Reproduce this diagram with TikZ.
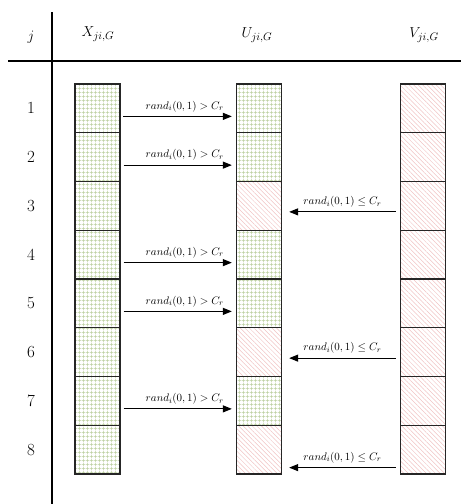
\documentclass[tikz,border=0pt]{standalone}
\usetikzlibrary{patterns.meta,arrows.meta}
\definecolor{gridgreen}{RGB}{185,205,155}
\definecolor{hatchpink}{RGB}{240,195,195}
\tikzset{
  cell/.style={draw=black!85, line width=1.3pt, minimum width=45pt,
    minimum height=48.75pt, inner sep=0pt},
  gcell/.style={cell, pattern={Hatch[angle=0,distance=4pt,line width=0.6pt]},
    pattern color=gridgreen},
  pcell/.style={cell, pattern={Lines[angle=-45,distance=3.2pt,line width=0.5pt]},
    pattern color=hatchpink},
  flow/.style={line width=1.1pt, -{Triangle[length=9pt,width=7pt]}},
  cond/.style={font=\fontsize{11}{13}\selectfont, inner sep=1pt},
  rowlabel/.style={font=\fontsize{17}{19}\selectfont},
  head/.style={font=\fontsize{15}{17}\selectfont},
  axis/.style={line width=2.4pt},
}
\begin{document}
\begin{tikzpicture}[x=1pt,y=-1pt]
\useasboundingbox (0,0) rectangle (461,504);

% table axes
\coordinate (vtop) at (52,12);
\coordinate (vbot) at (52,504);
\coordinate (hl) at (8,61);
\coordinate (hr) at (461,61);
\draw[axis] (vtop) -- (vbot);
\draw[axis] (hl) -- (hr);

% header
\node[head] (hj) at (31,37) {$j$};
\node[head] (hx) at (98,34) {$X_{ji,G}$};
\node[head] (hu) at (257,35) {$U_{ji,G}$};
\node[head] (hv) at (424,35) {$V_{ji,G}$};

% rows
\foreach \k/\ucol in {1/gcell,2/gcell,3/pcell,4/gcell,5/gcell,6/pcell,7/gcell,8/pcell}{
  \pgfmathsetmacro{\yc}{84+48.75*(\k-0.5)}
  \node[rowlabel] (j\k) at (31,\yc) {\k};
  \node[gcell] (x\k) at (97.5,\yc) {};
  \node[\ucol] (u\k) at (259,\yc) {};
  \node[pcell] (v\k) at (423,\yc) {};
}

% crossover arrows: target to trial vector
\foreach \k in {1,2,4,5,7}{
  \draw[flow] ([xshift=3pt,yshift=-8pt]x\k.east) -- ([xshift=-4pt,yshift=-8pt]u\k.west)
    node[cond, midway, above=3pt, xshift=7pt] {$rand_i(0,1) > C_r$};
}
% mutant to trial vector
\foreach \k in {3,6}{
  \draw[flow] ([xshift=-4pt,yshift=-6pt]v\k.west) -- ([xshift=7pt,yshift=-6pt]u\k.east)
    node[cond, midway, above=3pt] {$rand_i(0,1) \le C_r$};
}
\draw[flow] ([xshift=-4pt,yshift=-18pt]v8.west) -- ([xshift=7pt,yshift=-18pt]u8.east)
  node[cond, midway, above=3pt] {$rand_i(0,1) \le C_r$};
\end{tikzpicture}
\end{document}
